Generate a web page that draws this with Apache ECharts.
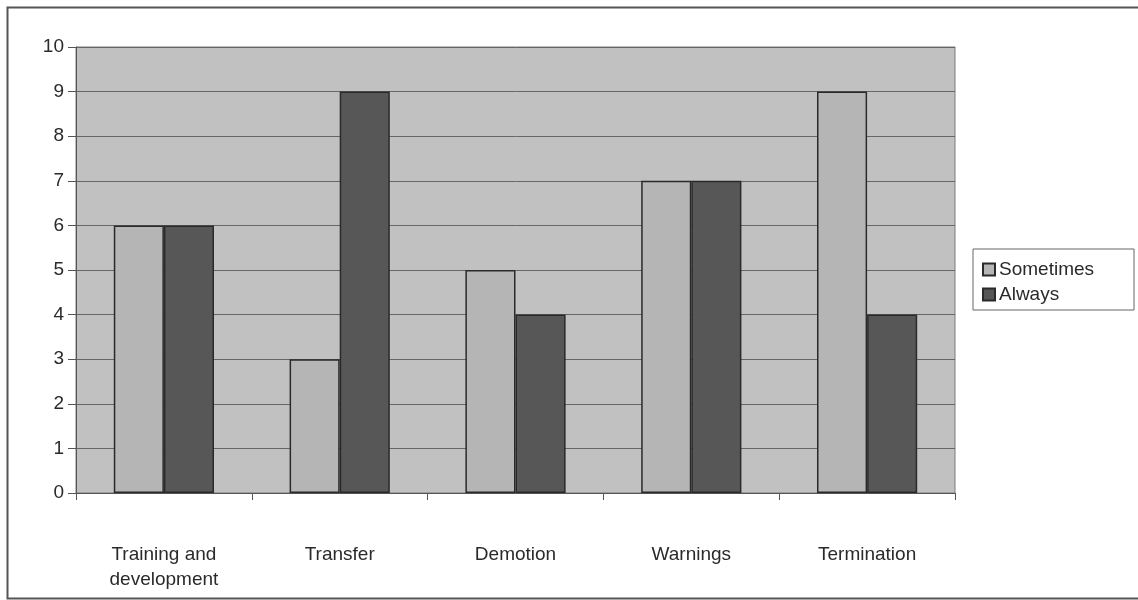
<!DOCTYPE html>
<html>
<head>
<meta charset="utf-8">
<script src="https://cdn.jsdelivr.net/npm/echarts@6/dist/echarts.min.js"></script>
<style>
  html, body { margin: 0; padding: 0; background: #ffffff; }
  #chart { width: 1138px; height: 600px; }
</style>
</head>
<body>
<div id="chart"></div>
<script>
// Categories and series values
const categories = ['Training and\ndevelopment', 'Transfer', 'Demotion', 'Warnings', 'Termination'];
const sometimes = [6, 3, 5, 7, 9];
const always = [6, 9, 4, 7, 4];
const seriesNames = ['Sometimes', 'Always'];

const chart = echarts.init(document.getElementById('chart'), null, { renderer: 'canvas' });
const font = '"Liberation Sans", Arial, sans-serif';

chart.setOption({
  animation: false,
  backgroundColor: '#ffffff',
  textStyle: { fontFamily: font },
  graphic: [{
    type: 'rect',
    shape: { x: 7.5, y: 7.5, width: 1140, height: 591 },
    style: { fill: 'none', stroke: '#555555', lineWidth: 2 },
    silent: true
  }],
  grid: {
    left: 76, top: 47, right: 183, bottom: 107,
    show: true,
    backgroundColor: '#c1c1c1',
    borderColor: '#7a7a7a',
    borderWidth: 1
  },
  legend: {
    orient: 'vertical',
    left: 973, top: 249,
    padding: [11, 40, 6, 9],
    itemWidth: 12, itemHeight: 12,
    itemGap: 6,
    borderColor: '#666666', borderWidth: 1,
    backgroundColor: '#ffffff',
    icon: 'rect',
    textStyle: { fontSize: 19, color: '#2a2a2a', fontFamily: font, padding: [0, 0, 0, -1] },
    data: seriesNames
  },
  xAxis: {
    type: 'category',
    data: categories,
    axisLine: { lineStyle: { color: '#555555', width: 1 } },
    axisTick: { show: true, length: 7, lineStyle: { color: '#555555' } },
    axisLabel: { fontSize: 19, color: '#2a2a2a', margin: 49, lineHeight: 25, fontFamily: font },
    splitLine: { show: false }
  },
  yAxis: {
    type: 'value',
    min: 0, max: 10, interval: 1,
    axisLine: { show: true, lineStyle: { color: '#555555', width: 1 } },
    axisTick: { show: true, length: 8, lineStyle: { color: '#555555' } },
    axisLabel: { fontSize: 19, color: '#2a2a2a', margin: 12, fontFamily: font },
    splitLine: { show: true, lineStyle: { color: '#666666', width: 1 } }
  },
  series: [
    {
      name: seriesNames[0],
      type: 'bar',
      data: sometimes,
      barGap: '0%',
      barCategoryGap: '43%',
      itemStyle: { color: '#b5b5b5', borderColor: '#2a2a2a', borderWidth: 1.5 }
    },
    {
      name: seriesNames[1],
      type: 'bar',
      data: always,
      itemStyle: { color: '#575757', borderColor: '#2a2a2a', borderWidth: 1.5 }
    }
  ]
});
</script>
</body>
</html>
